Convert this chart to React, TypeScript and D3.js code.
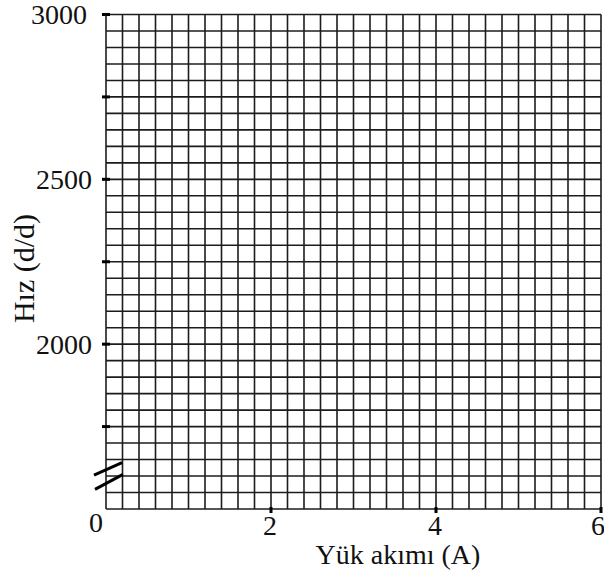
import React from "react";
import * as d3 from "d3";

const xTicks = [0, 2, 4, 6];
const yTicks = [2000, 2500, 3000];
const yMinorTicks = [1750, 2000, 2250, 2500, 2750, 3000];
const xDomain = [0, 6];
const yDomain = [1500, 3000];
const xStep = 0.2;
const yStep = 50;
const xTitle = "Yük akımı (A)";
const yTitle = "Hız (d/d)";

const W = 604;
const H = 573;
const FONT = "'Liberation Serif', 'Times New Roman', serif";

export default function App() {
  const x = d3.scaleLinear().domain(xDomain).range([106, 601]);
  const y = d3.scaleLinear().domain(yDomain).range([509, 14.5]);
  const vLines = d3.range(xDomain[0], xDomain[1] + xStep / 2, xStep);
  const hLines = d3.range(yDomain[0], yDomain[1] + yStep / 2, yStep);
  const x0 = x(0);
  const stroke = "#1c1c1c";

  return (
    <svg
      width={W}
      height={H}
      style={{ position: "absolute", left: 0, top: 0, background: "#fff" }}
    >
      <rect x={0} y={0} width={W} height={H} fill="#fff" />
      {vLines.map((v, i) => (
        <line
          key={"v" + i}
          x1={x(v)}
          x2={x(v)}
          y1={y(yDomain[0])}
          y2={y(yDomain[1])}
          stroke={stroke}
          strokeWidth={1.6}
        />
      ))}
      {hLines.map((v, i) => (
        <line
          key={"h" + i}
          x1={x(xDomain[0])}
          x2={x(xDomain[1])}
          y1={y(v)}
          y2={y(v)}
          stroke={stroke}
          strokeWidth={1.6}
        />
      ))}
      {yMinorTicks.map((v, i) => (
        <line
          key={"yt" + i}
          x1={x0 - 4}
          x2={x0 + 4}
          y1={y(v)}
          y2={y(v)}
          stroke="#000"
          strokeWidth={3}
        />
      ))}
      {xTicks.slice(1).map((v, i) => (
        <line
          key={"xt" + i}
          x1={x(v)}
          x2={x(v)}
          y1={y(yDomain[0]) - 2}
          y2={y(yDomain[0]) + 4}
          stroke="#000"
          strokeWidth={3}
        />
      ))}
      {/* axis break marks */}
      <line
        x1={x0 - 12}
        y1={y(1600) - 1}
        x2={x0 + 16}
        y2={y(1600) - 13.3}
        stroke="#000"
        strokeWidth={3}
      />
      <line
        x1={x0 - 11}
        y1={y(1550) - 3.2}
        x2={x0 + 17}
        y2={y(1550) - 18.2}
        stroke="#000"
        strokeWidth={3}
      />
      {yTicks.map((v, i) => (
        <text
          key={"yl" + i}
          x={v === 3000 ? 87 : 92}
          y={y(v)}
          dy="0.34em"
          textAnchor="end"
          fontFamily={FONT}
          fontSize={28}
          fill="#111"
        >
          {v}
        </text>
      ))}
      {xTicks.map((v, i) => (
        <text
          key={"xl" + i}
          x={v === 0 ? 96 : x(v) - 1 - (v === 6 ? 2 : 0)}
          y={v === 0 ? 532 : 535}
          textAnchor="middle"
          fontFamily={FONT}
          fontSize={28}
          fill="#111"
        >
          {v}
        </text>
      ))}
      <text
        x={398}
        y={564}
        textAnchor="middle"
        fontFamily={FONT}
        fontSize={28}
        fill="#111"
      >
        {xTitle}
      </text>
      <text
        transform={`translate(34,268.5) rotate(-90)`}
        textAnchor="middle"
        fontFamily={FONT}
        fontSize={30}
        fill="#111"
      >
        {yTitle}
      </text>
    </svg>
  );
}
